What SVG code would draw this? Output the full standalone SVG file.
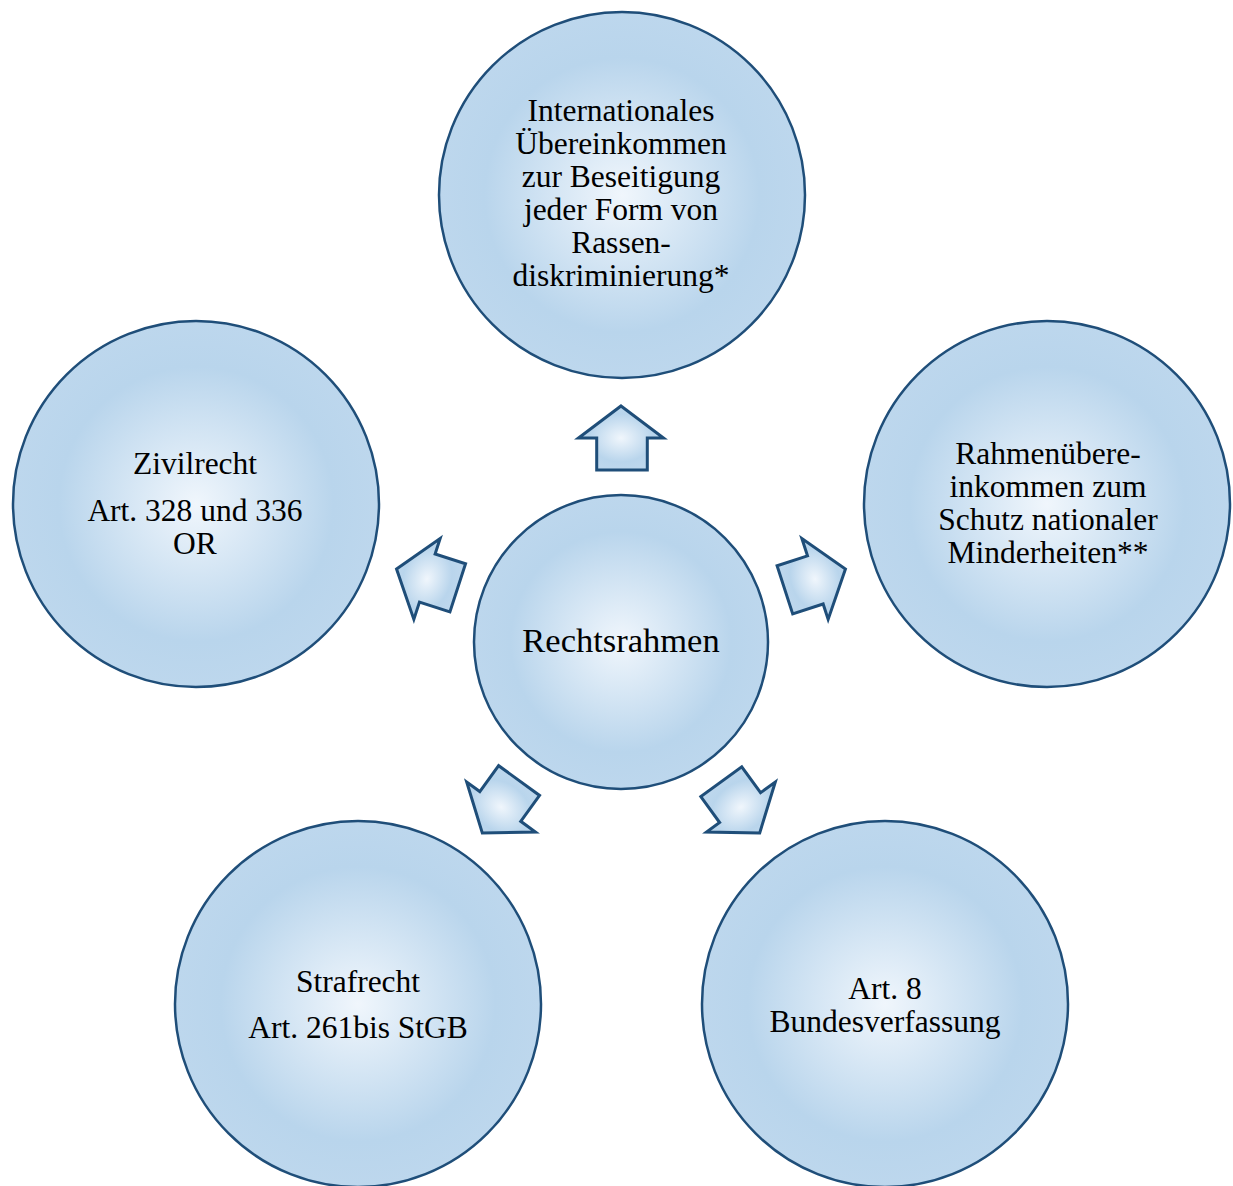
<svg xmlns="http://www.w3.org/2000/svg" width="1233" height="1186" viewBox="0 0 1233 1186">
<defs>
<radialGradient id="g" cx="50%" cy="50%" r="50%">
<stop offset="0" stop-color="#f0f6fc"/>
<stop offset="0.75" stop-color="#b9d5ec"/>
<stop offset="1" stop-color="#bdd7ed"/>
</radialGradient>
<style>
.c{fill:url(#g);stroke:#1f4e79;stroke-width:2.5}
.a{fill:url(#g);stroke:#1f4e79;stroke-width:3;stroke-linejoin:miter}
text{font-family:"Liberation Serif","Times New Roman",serif;font-size:31.5px;fill:#000;text-anchor:middle}
</style>
</defs>
<rect width="1233" height="1186" fill="#fff"/>
<g id="connectors">
<polygon id="arrow-top" class="a" points="621,406 663.5,438 647.3,438 647.3,470 596.7,470 596.7,438 578.5,438"/>
<polygon id="arrow-left" class="a" points="621,406 663.5,438 647.3,438 647.3,470 596.7,470 596.7,438 578.5,438" transform="rotate(-72 621 642)"/>
<polygon id="arrow-right" class="a" points="621,406 663.5,438 647.3,438 647.3,470 596.7,470 596.7,438 578.5,438" transform="rotate(72 621 642)"/>
<polygon id="arrow-bl" class="a" points="621,406 663.5,438 647.3,438 647.3,470 596.7,470 596.7,438 578.5,438" transform="rotate(-144 621 642)"/>
<polygon id="arrow-br" class="a" points="621,406 663.5,438 647.3,438 647.3,470 596.7,470 596.7,438 578.5,438" transform="rotate(144 621 642)"/>
</g>
<g id="center">
<circle class="c" cx="621" cy="642" r="147"/>
<text x="621" y="652" style="font-size:34.5px">Rechtsrahmen</text>
</g>
<g id="top">
<circle class="c" cx="622" cy="195" r="183"/>
<text x="621" y="121">Internationales</text>
<text x="621" y="154">Übereinkommen</text>
<text x="621" y="187">zur Beseitigung</text>
<text x="621" y="220">jeder Form von</text>
<text x="621" y="253">Rassen-</text>
<text x="621" y="286">diskriminierung*</text>
</g>
<g id="left">
<circle class="c" cx="196" cy="504" r="183"/>
<text x="195" y="474">Zivilrecht</text>
<text x="195" y="521">Art. 328 und 336</text>
<text x="195" y="554">OR</text>
</g>
<g id="right">
<circle class="c" cx="1047" cy="504" r="183"/>
<text x="1048" y="464">Rahmenübere-</text>
<text x="1048" y="497">inkommen zum</text>
<text x="1048" y="530">Schutz nationaler</text>
<text x="1048" y="563">Minderheiten**</text>
</g>
<g id="bottom-left">
<circle class="c" cx="358" cy="1004" r="183"/>
<text x="358" y="992">Strafrecht</text>
<text x="358" y="1038">Art. 261bis StGB</text>
</g>
<g id="bottom-right">
<circle class="c" cx="885" cy="1004" r="183"/>
<text x="885" y="999">Art. 8</text>
<text x="885" y="1032">Bundesverfassung</text>
</g>
</svg>
